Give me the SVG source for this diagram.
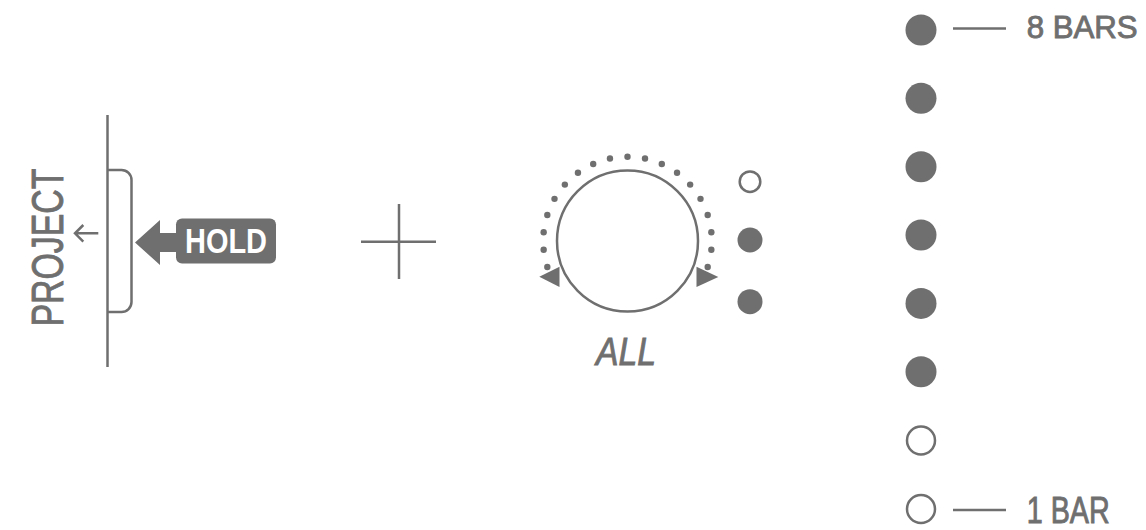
<svg xmlns="http://www.w3.org/2000/svg" width="1146" height="530" viewBox="0 0 1146 530">
<style>
.ln{stroke:#6f6f6f;fill:none;stroke-width:2.5}
.fl{fill:#6f6f6f}
.tx{font-family:"Liberation Sans",Arial,sans-serif;fill:#6f6f6f;stroke:#6f6f6f;stroke-width:0.9}
</style>
<rect width="1146" height="530" fill="#ffffff"/>
<g id="project-button">
<line class="ln" x1="107.5" y1="115" x2="107.5" y2="367"/>
<path class="ln" d="M107.5,170 H121.5 A10,10 0 0 1 131.5,180 V302 A10,10 0 0 1 121.5,312 H107.5"/>
<text class="tx" transform="translate(63.3,247.5) rotate(-90)" text-anchor="middle" font-size="44" textLength="158" lengthAdjust="spacingAndGlyphs">PROJECT</text>
<path class="ln" d="M75,233.3 H98.3 M83.3,225 L75,233.3 L83.3,241.7" stroke-width="2.2"/>
</g>
<g id="hold">
<polygon class="fl" points="135,242.5 160,220 160,233 177,233 177,252 160,252 160,265"/>
<rect class="fl" x="176" y="218.5" width="100" height="45" rx="6"/>
<text x="226" y="253.3" text-anchor="middle" font-family="Liberation Sans,Arial,sans-serif" font-weight="bold" font-size="35" fill="#ffffff" textLength="82" lengthAdjust="spacingAndGlyphs">HOLD</text>
</g>
<g id="plus">
<line class="ln" x1="361" y1="241.7" x2="436" y2="241.7"/>
<line class="ln" x1="399" y1="204" x2="399" y2="279"/>
</g>
<g id="knob">
<circle class="ln" cx="627.5" cy="241" r="70.5"/>
<g class="fl">
<circle cx="627.5" cy="156.7" r="3.2"/>
<circle cx="645.03" cy="158.55" r="3.2"/>
<circle cx="661.79" cy="164.0" r="3.2"/>
<circle cx="677.05" cy="172.8" r="3.2"/>
<circle cx="690.15" cy="184.6" r="3.2"/>
<circle cx="700.5" cy="198.85" r="3.2"/>
<circle cx="707.68" cy="214.95" r="3.2"/>
<circle cx="711.34" cy="232.19" r="3.2"/>
<circle cx="711.34" cy="249.81" r="3.2"/>
<circle cx="707.68" cy="267.05" r="3.2"/>
<circle cx="609.97" cy="158.55" r="3.2"/>
<circle cx="593.21" cy="164.0" r="3.2"/>
<circle cx="577.95" cy="172.8" r="3.2"/>
<circle cx="564.85" cy="184.6" r="3.2"/>
<circle cx="554.5" cy="198.85" r="3.2"/>
<circle cx="547.32" cy="214.95" r="3.2"/>
<circle cx="543.66" cy="232.19" r="3.2"/>
<circle cx="543.66" cy="249.81" r="3.2"/>
<circle cx="547.32" cy="267.05" r="3.2"/>
<polygon points="539.3,276.7 559.5,266.7 559.5,287"/>
<polygon points="718.3,277 696.5,266.7 696.5,287"/>
</g>
<text class="tx" x="626" y="365" text-anchor="middle" font-style="italic" font-size="39" textLength="60" lengthAdjust="spacingAndGlyphs">ALL</text>
</g>
<g id="knob-leds">
<circle class="ln" cx="750" cy="181.7" r="10.3"/>
<circle class="fl" cx="750" cy="240" r="12.5"/>
<circle class="fl" cx="750" cy="301.7" r="12.5"/>
</g>
<g id="bar-leds">
<circle class="fl" cx="921" cy="30" r="15.5"/>
<circle class="fl" cx="921" cy="98.35" r="15.5"/>
<circle class="fl" cx="921" cy="166.7" r="15.5"/>
<circle class="fl" cx="921" cy="235.05" r="15.5"/>
<circle class="fl" cx="921" cy="303.4" r="15.5"/>
<circle class="fl" cx="921" cy="371.75" r="15.5"/>
<circle class="ln" cx="921" cy="440.5" r="14" stroke-width="3"/>
<circle class="ln" cx="921" cy="509" r="14" stroke-width="3"/>
</g>
<g id="labels">
<line class="ln" x1="953" y1="28.5" x2="1006" y2="28.5" stroke-width="2"/>
<text class="tx" x="1026.7" y="38.3" font-size="32" textLength="111" lengthAdjust="spacingAndGlyphs">8 BARS</text>
<line class="ln" x1="953" y1="510" x2="1006" y2="510" stroke-width="2"/>
<text class="tx" x="1026.7" y="523.3" font-size="37" textLength="83" lengthAdjust="spacingAndGlyphs">1 BAR</text>
</g>
</svg>
